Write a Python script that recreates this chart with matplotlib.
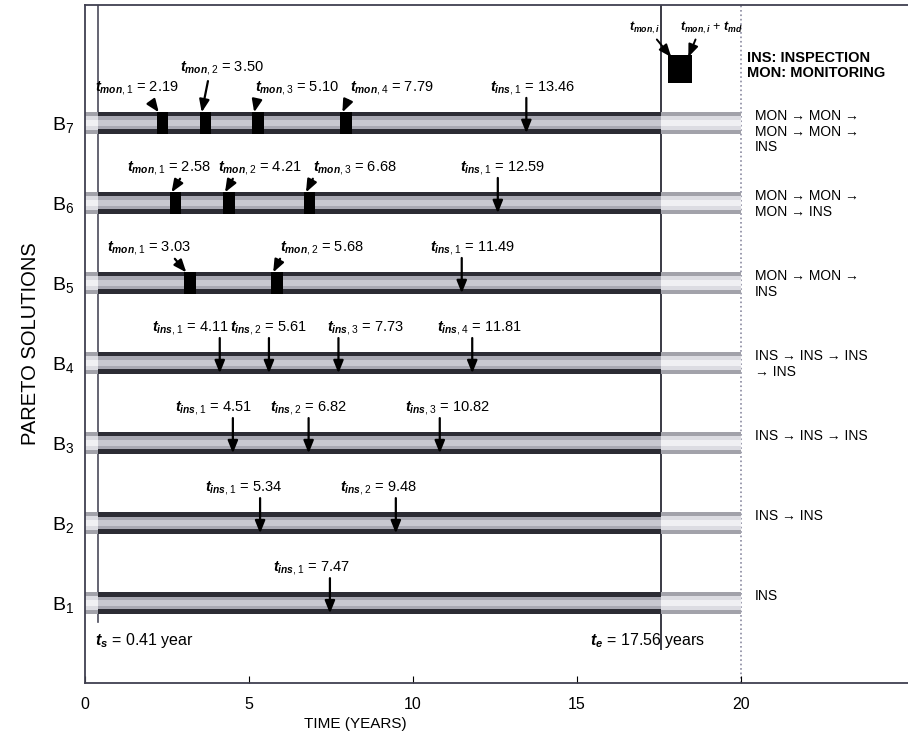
import numpy as np
import matplotlib
matplotlib.use("Agg")
import matplotlib.pyplot as plt

plt.rcParams['font.family'] = ['Liberation Sans', 'DejaVu Sans']
plt.rcParams['mathtext.fontset'] = 'custom'
plt.rcParams['mathtext.rm'] = 'Liberation Sans'
plt.rcParams['mathtext.it'] = 'Liberation Sans:italic:bold'
plt.rcParams['mathtext.bf'] = 'Liberation Sans:bold'

# data
t_start = 0.41
t_end = 17.56
t_life = 20
t_md = 0.35
solutions = ['B1', 'B2', 'B3', 'B4', 'B5', 'B6', 'B7']
mon_times = {
    'B7': [2.19, 3.50, 5.10, 7.79],
    'B6': [2.58, 4.21, 6.68],
    'B5': [3.03, 5.68],
}
ins_times = {
    'B7': [13.46],
    'B6': [12.59],
    'B5': [11.49],
    'B4': [4.11, 5.61, 7.73, 11.81],
    'B3': [4.51, 6.82, 10.82],
    'B2': [5.34, 9.48],
    'B1': [7.47],
}
sequences = {
    'B7': 'MON \u2192 MON \u2192\nMON \u2192 MON \u2192\nINS',
    'B6': 'MON \u2192 MON \u2192\nMON \u2192 INS',
    'B5': 'MON \u2192 MON \u2192\nINS',
    'B4': 'INS \u2192 INS \u2192 INS\n\u2192 INS',
    'B3': 'INS \u2192 INS \u2192 INS',
    'B2': 'INS \u2192 INS',
    'B1': 'INS',
}

# layout of labels (left x of text, data units)
mon_label_x = {
    'B7': [0.30, 2.90, 5.18, 8.08],
    'B6': [1.28, 4.05, 6.95],
    'B5': [0.67, 5.95],
}
mon_label_dy = {'B7': [0.44, 0.68, 0.44, 0.44]}
mon_arrow_from = {
    'B7': [(-0.15, 0.25), (0.25, 0.52), (0.14, 0.28), (0.23, 0.28)],
    'B6': [(0.32, 0.30), (0.30, 0.30), (0.27, 0.30)],
    'B5': [(-0.29, 0.30), (0.27, 0.30)],
}
ins_label_x = {
    'B7': [12.35],
    'B6': [11.43],
    'B5': [10.52],
    'B4': [2.04, 4.42, 7.38, 10.73],
    'B3': [2.74, 5.64, 9.76],
    'B2': [3.66, 7.77],
    'B1': [5.73],
}

fig = plt.figure(figsize=(9.08, 7.45), dpi=100)
ax = fig.add_axes([0.0936, 0.0832, 0.9064, 0.910])
ax.set_xlim(0, 25.1)
ax.set_ylim(0, 8.47)

rows = np.arange(1, len(solutions) + 1)
h = 0.27
head = 'simple,head_length=0.8,head_width=0.55,tail_width=0.12'
head = '-|>,head_length=0.75,head_width=0.3'

for y, s in zip(rows, solutions):
    # faded parts before start and after end of service
    for left, width in [(0, t_start), (t_end, t_life - t_end)]:
        ax.barh(y, width, left=left, height=h, color='#a2a2aa', zorder=2)
        ax.barh(y, width, left=left, height=0.17, color='#dcdce2', zorder=2)
        ax.barh(y, width, left=left, height=0.07, color='#f0f0f3', zorder=2)
    ax.barh(y, t_end - t_start, left=t_start, height=h, color='#2c2c34', zorder=2)
    ax.barh(y, t_end - t_start, left=t_start, height=0.16, color='#a8a8b2', zorder=2)
    ax.barh(y, t_end - t_start, left=t_start, height=0.07, color='#c8c8d0', zorder=2)

    for i, t in enumerate(mon_times.get(s, [])):
        ax.barh(y, t_md, left=t, height=h, color='black', zorder=3)
        dy = mon_label_dy.get(s, [0.44] * 4)[i]
        ax.text(mon_label_x[s][i], y + dy, r'$t_{mon,%d}$ = %.2f' % (i + 1, t),
                fontsize=10.5, va='center', ha='left', zorder=5)
        dx0, dy0 = mon_arrow_from[s][i]
        ax.annotate('', xy=(t + 0.06, y + 0.13), xytext=(t + dx0, y + dy0),
                    arrowprops=dict(arrowstyle=head, color='black', lw=1.6,
                                    shrinkA=0, shrinkB=0), zorder=4)

    for i, t in enumerate(ins_times[s]):
        ax.text(ins_label_x[s][i], y + 0.44, r'$t_{ins,%d}$ = %.2f' % (i + 1, t),
                fontsize=10.5, va='center', ha='left', zorder=5)
        ax.annotate('', xy=(t, y - 0.13), xytext=(t, y + 0.31),
                    arrowprops=dict(arrowstyle=head, color='black', lw=1.6,
                                    shrinkA=0, shrinkB=0), zorder=4)

    ax.text(20.43, y + 0.17, sequences[s], fontsize=10, va='top', ha='left',
            linespacing=1.15)

# service life bounds
ax.plot([t_start, t_start], [0.76, 8.47], color='#4a4a5a', lw=1.2, zorder=1)
ax.plot([t_end, t_end], [0.42, 8.47], color='#3a3a44', lw=1.4, zorder=1)
ax.plot([t_life, t_life], [0, 8.47], color='#8a8aa0', lw=1.2, ls=':', zorder=1)
ax.text(0.30, 0.53, r'$t_s$ = 0.41 year', fontsize=11.5, va='center', ha='left')
ax.text(15.4, 0.53, r'$t_e$ = 17.56 years', fontsize=11.5, va='center', ha='left')

# legend for monitoring block
ax.barh(7.67, 0.73, left=17.77, height=0.34, color='black')
ax.text(17.07, 8.19, r'$t_{mon,i}$', fontsize=9, ha='center', va='center')
ax.text(18.14, 8.19, r'$t_{mon,i}$ + $t_{md}$', fontsize=9, ha='left', va='center')
ax.annotate('', xy=(17.88, 7.82), xytext=(17.44, 8.04),
            arrowprops=dict(arrowstyle=head, color='black', lw=1.4, shrinkA=0, shrinkB=0))
ax.annotate('', xy=(18.40, 7.82), xytext=(18.62, 8.04),
            arrowprops=dict(arrowstyle=head, color='black', lw=1.4, shrinkA=0, shrinkB=0))
ax.text(20.2, 7.71, 'INS: INSPECTION\nMON: MONITORING', fontsize=10.5,
        fontweight='bold', va='center', ha='left', linespacing=1.1)

ax.set_yticks(rows)
ax.set_yticklabels([r'$\mathrm{B}_{%s}$' % s[1:] for s in solutions], fontsize=14)
ax.tick_params(axis='y', length=0, pad=8)
ax.set_xticks([0, 5, 10, 15, 20])
ax.tick_params(axis='x', direction='in', length=5, labelsize=11.5, pad=10)
ax.set_xlabel('TIME (YEARS)', fontsize=11)
ax.xaxis.set_label_coords(0.328, -0.05)
ax.set_ylabel('PARETO SOLUTIONS', fontsize=14.5, labelpad=8)

for side in ['left', 'bottom', 'top']:
    ax.spines[side].set_color('#404050')
    ax.spines[side].set_linewidth(1.3)
ax.spines['right'].set_visible(False)

fig.savefig('out.png', dpi=100)
